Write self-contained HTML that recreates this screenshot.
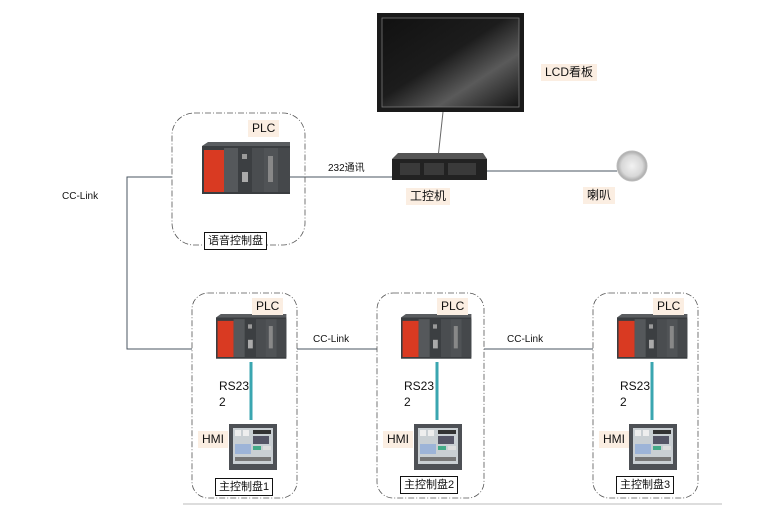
<!DOCTYPE html>
<html><head><meta charset="utf-8"><style>
body{margin:0;background:#fff;}
#c{position:relative;width:780px;height:516px;overflow:hidden;background:#fff;font-family:"Liberation Sans","Noto Sans CJK SC",sans-serif;color:#111;}
.a{position:absolute;}
.lbl{position:absolute;background:#fbeee2;font-size:12px;line-height:17px;padding:0 4px;}
.t{position:absolute;font-size:10px;line-height:12px;}
.box{position:absolute;border:1px solid #111;background:#fff;font-size:11px;line-height:16px;padding:0 3px;white-space:nowrap;}
</style></head><body><div id="c">
<svg class="a" style="left:0;top:0" width="780" height="516">
<defs>
<linearGradient id="scr" x1="0" y1="0" x2="1" y2="1"><stop offset="0" stop-color="#111"/><stop offset="0.45" stop-color="#1c1c1c"/><stop offset="0.7" stop-color="#5a5a5a"/><stop offset="1" stop-color="#151515"/></linearGradient>
<radialGradient id="spk"><stop offset="0" stop-color="#f2f2f2"/><stop offset="0.7" stop-color="#d8d8d8"/><stop offset="1" stop-color="#a8a8a8"/></radialGradient>
<g id="plc">
<rect x="0" y="4" width="88" height="48" fill="#3a3d40"/>
<polygon points="0,4 6,0 88,0 88,4" fill="#5a5d60"/>
<rect x="2" y="8" width="20" height="42" fill="#d93a22"/>
<rect x="22" y="6" width="14" height="44" fill="#55585b"/>
<rect x="36" y="6" width="14" height="44" fill="#3c3f42"/>
<rect x="40" y="12" width="5" height="5" fill="#999"/>
<rect x="40" y="30" width="6" height="10" fill="#aaa"/>
<rect x="50" y="6" width="12" height="44" fill="#4a4d50"/>
<rect x="62" y="6" width="14" height="44" fill="#505356"/>
<rect x="66" y="14" width="5" height="26" fill="#888"/>
<rect x="76" y="6" width="12" height="44" fill="#45484b"/>
</g>
<g id="hmi">
<rect x="0" y="0" width="48" height="46" fill="#4d5055"/>
<rect x="4" y="4" width="40" height="36" fill="#c9cfd3"/>
<rect x="6" y="6" width="6" height="6" fill="#eee"/><rect x="14" y="6" width="6" height="6" fill="#eee"/>
<rect x="24" y="6" width="18" height="4" fill="#333"/>
<rect x="24" y="12" width="16" height="8" fill="#556"/>
<rect x="6" y="20" width="16" height="10" fill="#9db4d8"/>
<rect x="24" y="22" width="8" height="4" fill="#4a8"/><rect x="34" y="22" width="8" height="4" fill="#ddd"/>
<rect x="6" y="33" width="36" height="4" fill="#777"/>
</g>
</defs>
<!-- monitor -->
<rect x="377" y="13" width="147" height="99" fill="#1a1a1a"/>
<rect x="382" y="18" width="137" height="89" fill="url(#scr)" stroke="#777" stroke-width="0.8"/>
<line x1="443" y1="112" x2="438" y2="158" stroke="#666" stroke-width="1"/>
<!-- IPC -->
<polygon points="398,153 483,153 487,159 392,159" fill="#555"/>
<rect x="392" y="159" width="95" height="21" fill="#222"/>
<rect x="400" y="163" width="20" height="12" fill="#3a3a3a"/><rect x="424" y="163" width="20" height="12" fill="#3a3a3a"/><rect x="448" y="163" width="28" height="12" fill="#3a3a3a"/>
<!-- lines -->
<g stroke="#4a5560" stroke-width="1" fill="none">
<line x1="290" y1="177" x2="392" y2="177"/>
<line x1="487" y1="171" x2="617" y2="171"/>
<polyline points="172,177 127,177 127,349 192,349"/>
<line x1="297" y1="349" x2="377" y2="349"/>
<line x1="484" y1="349" x2="593" y2="349"/>
</g>
<circle cx="632" cy="166" r="15" fill="url(#spk)" stroke="#bbb"/>
<!-- dashed boxes -->
<g stroke="#555" stroke-width="0.8" fill="none" stroke-dasharray="6,2,1,2">
<rect x="172" y="113" width="133" height="132" rx="22"/>
<rect x="192" y="293" width="105" height="205" rx="16"/>
<rect x="377" y="293" width="107" height="205" rx="16"/>
<rect x="593" y="293" width="105" height="205" rx="16"/>
</g>
<line x1="183" y1="504" x2="722" y2="504" stroke="#ddd" stroke-width="2"/>
<use href="#plc" transform="translate(202,142)"/>
<g stroke="#3aa6b0" stroke-width="3">
<line x1="251" y1="362" x2="251" y2="420"/><line x1="437" y1="362" x2="437" y2="420"/><line x1="652" y1="362" x2="652" y2="420"/>
</g>
<use href="#plc" transform="translate(216,314) scale(0.8,0.86)"/>
<use href="#plc" transform="translate(401,314) scale(0.8,0.86)"/>
<use href="#plc" transform="translate(617,314) scale(0.8,0.86)"/>
<use href="#hmi" transform="translate(229,424)"/>
<use href="#hmi" transform="translate(414,424)"/>
<use href="#hmi" transform="translate(629,424)"/>
</svg>
<div class="lbl" style="left:541px;top:64px">LCD看板</div>
<div class="lbl" style="left:406px;top:188px">工控机</div>
<div class="lbl" style="left:583px;top:187px">喇叭</div>
<div class="lbl" style="left:248px;top:120px">PLC</div>
<div class="t" style="left:328px;top:163px">232通讯</div>
<div class="t" style="left:62px;top:191px">CC-Link</div>
<div class="t" style="left:313px;top:334px">CC-Link</div>
<div class="t" style="left:507px;top:334px">CC-Link</div>
<div class="box" style="left:204px;top:232px">语音控制盘</div>

<div class="lbl" style="left:252px;top:298px">PLC</div>
<div class="lbl" style="left:437px;top:298px">PLC</div>
<div class="lbl" style="left:653px;top:298px">PLC</div>
<div class="a" style="left:219px;top:378px;font-size:12px;line-height:16px">RS23<br>2</div>
<div class="a" style="left:404px;top:378px;font-size:12px;line-height:16px">RS23<br>2</div>
<div class="a" style="left:620px;top:378px;font-size:12px;line-height:16px">RS23<br>2</div>
<div class="lbl" style="left:198px;top:431px">HMI</div>
<div class="lbl" style="left:383px;top:431px">HMI</div>
<div class="lbl" style="left:599px;top:431px">HMI</div>
<div class="box" style="left:215px;top:478px">主控制盘1</div>
<div class="box" style="left:400px;top:476px">主控制盘2</div>
<div class="box" style="left:616px;top:476px">主控制盘3</div>
</div></body></html>
